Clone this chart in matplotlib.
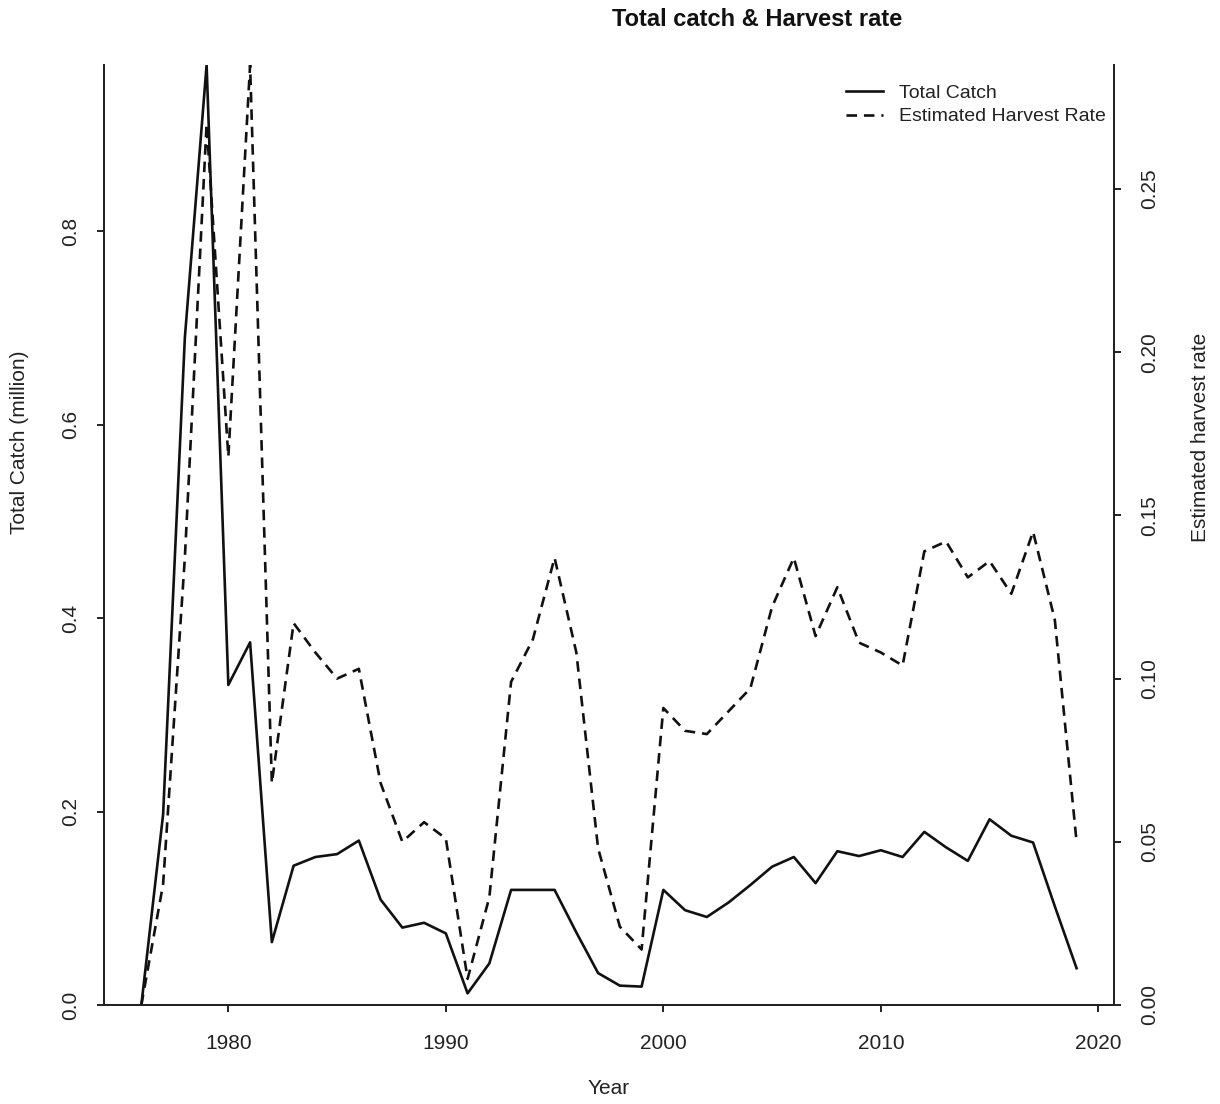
import matplotlib
matplotlib.use("Agg")
import matplotlib.pyplot as plt
from matplotlib.lines import Line2D

plt.rcParams["font.family"] = ["Liberation Sans", "DejaVu Sans"]

# Catch series (millions) and estimated harvest rate, one value per year
years = list(range(1976, 2020))

total_catch = [
    0.000, 0.197, 0.690, 0.972, 0.331, 0.375, 0.065, 0.144, 0.153, 0.156,
    0.170, 0.109, 0.080, 0.085, 0.074, 0.012, 0.043, 0.119, 0.119, 0.119,
    0.075, 0.033, 0.020, 0.019, 0.119, 0.098, 0.091, 0.106, 0.124, 0.143,
    0.153, 0.126, 0.159, 0.154, 0.160, 0.153, 0.179, 0.163, 0.149, 0.192,
    0.175, 0.168, 0.102, 0.038,
]

harvest_rate = [
    0.000, 0.037, 0.137, 0.270, 0.168, 0.288, 0.068, 0.117, 0.108, 0.100,
    0.103, 0.068, 0.050, 0.056, 0.051, 0.008, 0.033, 0.099, 0.112, 0.137,
    0.108, 0.048, 0.024, 0.017, 0.091, 0.084, 0.083, 0.090, 0.097, 0.122,
    0.137, 0.113, 0.128, 0.111, 0.108, 0.104, 0.139, 0.142, 0.131, 0.136,
    0.126, 0.145, 0.118, 0.050,
]

x_ticks = [1980, 1990, 2000, 2010, 2020]
catch_ticks = [0.0, 0.2, 0.4, 0.6, 0.8]
rate_ticks = [0.00, 0.05, 0.10, 0.15, 0.20, 0.25]

LW = 1.9
DASH = (4, 2.6)
FS = 15
INK = "#222222"


def style_axis(ax):
    ax.tick_params(axis="both", direction="out", length=5, width=1.4,
                   labelsize=FS, color=INK, labelcolor=INK)
    for side in ("left", "bottom", "right"):
        ax.spines[side].set_linewidth(1.4)
        ax.spines[side].set_color(INK)
    ax.spines["top"].set_visible(False)


def px(x, y):
    """Pixel position on the 1220x1104 canvas -> figure fraction."""
    return x / 1220, 1 - y / 1104


fig = plt.figure(figsize=(12.2, 11.04), dpi=100)
ax = fig.add_axes([0.0852, 0.0897, 0.8279, 0.8514])
ax2 = ax.twinx()

ax.plot(years, total_catch, color="#111111", lw=LW)
ax2.plot(years, harvest_rate, color="#111111", lw=LW, dashes=DASH)

# 4% padding on x like base R, none on y
span = years[-1] - years[0]
ax.set_xlim(years[0] - 0.04 * span, years[-1] + 0.04 * span)
ax.set_ylim(0, max(total_catch))
ax2.set_ylim(0, max(harvest_rate))

ax.set_xticks(x_ticks)
ax.set_xticklabels([str(t) for t in x_ticks])
ax.set_yticks(catch_ticks)
ax.set_yticklabels([f"{t:.1f}" for t in catch_ticks], rotation=90, va="center")
ax2.set_yticks(rate_ticks)
ax2.set_yticklabels([f"{t:.2f}" for t in rate_ticks], rotation=90, va="center")

style_axis(ax)
style_axis(ax2)
ax.tick_params(axis="x", pad=16)
ax.tick_params(axis="y", pad=12)
ax2.tick_params(axis="y", pad=14)

fig.text(*px(609, 1088), "Year", ha="center", va="center", fontsize=FS, color=INK)
fig.text(*px(20, 442), "Total Catch (million)", rotation=90,
         ha="center", va="center", fontsize=FS, color=INK)
fig.text(*px(1200, 437), "Estimated harvest rate", rotation=90,
         ha="center", va="center", fontsize=FS, color=INK)
fig.text(*px(757, 20), "Total catch & Harvest rate",
         ha="center", va="center", fontsize=17, fontweight="bold", color="#111111")

handles = [
    Line2D([], [], color="#111111", lw=LW),
    Line2D([], [], color="#111111", lw=LW, dashes=DASH),
]
ax2.legend(handles, ["Total Catch", "Estimated Harvest Rate"], loc="upper right",
           bbox_to_anchor=(1.009, 0.998), frameon=False, fontsize=14,
           handlelength=1.9, handletextpad=0.8, labelspacing=0.3,
           labelcolor=INK)

fig.savefig("out.png", dpi=100)
